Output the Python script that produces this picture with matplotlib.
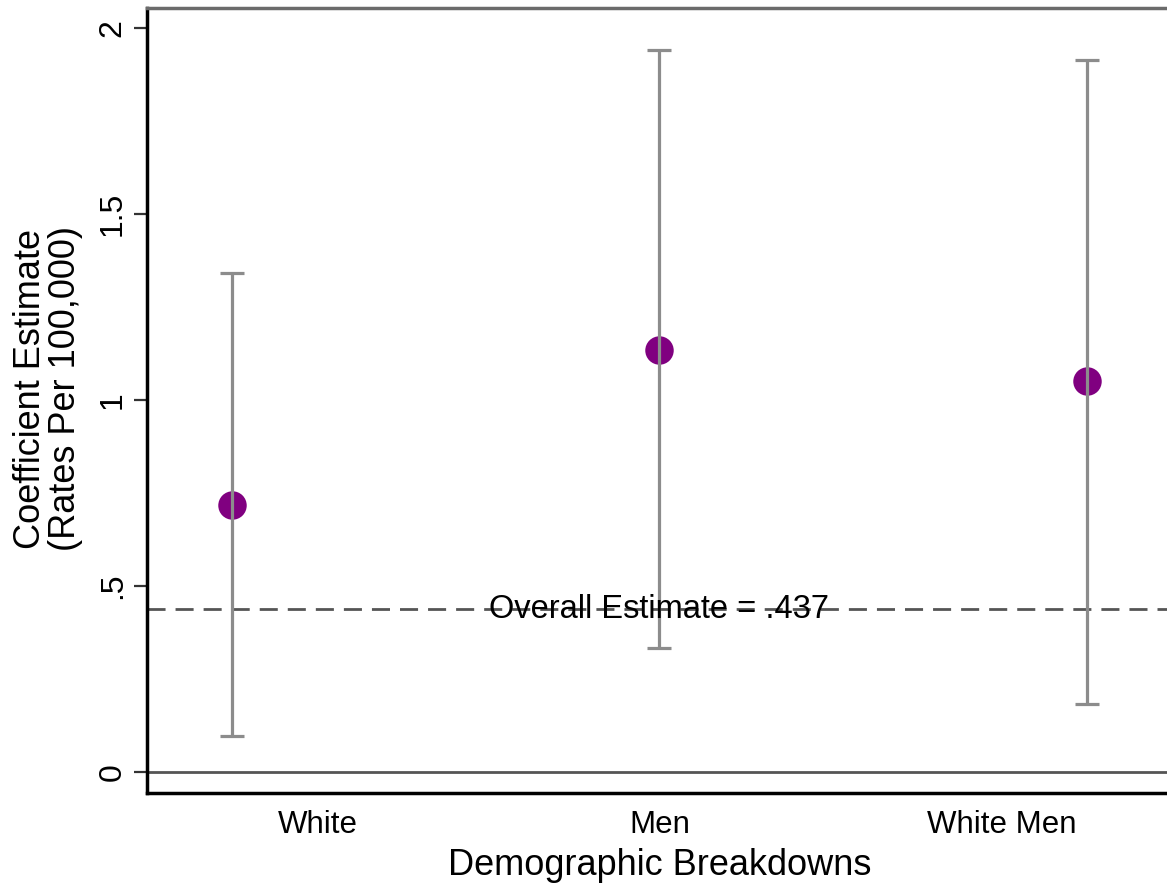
#!/usr/bin/env python3
import matplotlib
matplotlib.use("Agg")
import matplotlib.pyplot as plt

# data
groups = ["White", "Men", "White Men"]
estimates = [0.718, 1.134, 1.050]
ci_low = [0.097, 0.333, 0.183]
ci_high = [1.342, 1.940, 1.913]
overall = 0.437
yticks = [0, 0.5, 1, 1.5, 2]
ytick_labels = ["0", ".5", "1", "1.5", "2"]
# the category labels sit pulled in toward the middle, as in the original
label_pos = [1.2, 2, 2.8]

plt.rcParams["font.family"] = ["Liberation Sans", "DejaVu Sans"]

W, H = 1167, 886
L, R = 146.5, 1172.5
fig = plt.figure(figsize=(W / 100, H / 100), dpi=100)
ax = fig.add_axes([L / W, 1 - 793 / H, (R - L) / W, (793 - 8) / H])

x = list(range(1, len(groups) + 1))
err_lo = [e - l for e, l in zip(estimates, ci_low)]
err_hi = [h - e for e, h in zip(estimates, ci_high)]

ax.axhline(0, color="#555555", lw=2, zorder=1)
ax.axhline(overall, color="#555555", lw=2, ls=(0, (6.5, 3.6)), zorder=1)
ax.text(2, overall, f"Overall Estimate = {str(overall)[1:]}", ha="center", va="center",
        fontsize=23.5, color="black", zorder=4)

ax.scatter(x, estimates, s=420, color="#800080", zorder=2, linewidths=0)
ax.errorbar(x, estimates, yerr=[err_lo, err_hi], fmt="none", ecolor="#8c8c8c",
            elinewidth=2.3, capsize=8.6, capthick=2.3, zorder=3)

ax.set_xlim(0.8, 3.2)
ax.set_ylim(-0.0565, 2.054)
ax.set_xticks(label_pos)
ax.set_xticklabels(groups, fontsize=22.5)
ax.set_yticks(yticks)
ax.set_yticklabels(ytick_labels, fontsize=23, rotation=90, va="center")
ax.tick_params(axis="y", length=9.5, width=1.6, color="#333333", pad=4)
ax.tick_params(axis="x", length=0, pad=12)

ax.spines["right"].set_visible(False)
ax.spines["top"].set_color("#6b6b6b")
ax.spines["top"].set_linewidth(2.5)
for s in ["left", "bottom"]:
    ax.spines[s].set_color("black")
    ax.spines[s].set_linewidth(2.5)

ax.set_xlabel("Demographic Breakdowns", fontsize=26, labelpad=6)
ax.set_ylabel("Coefficient Estimate\n(Rates Per 100,000)", fontsize=26, linespacing=1.0)
ax.yaxis.label.set_verticalalignment("center")
ax.yaxis.set_label_coords(-(L - 48) / (R - L), 0.515)

fig.savefig("out.png", dpi=100, facecolor="white")
